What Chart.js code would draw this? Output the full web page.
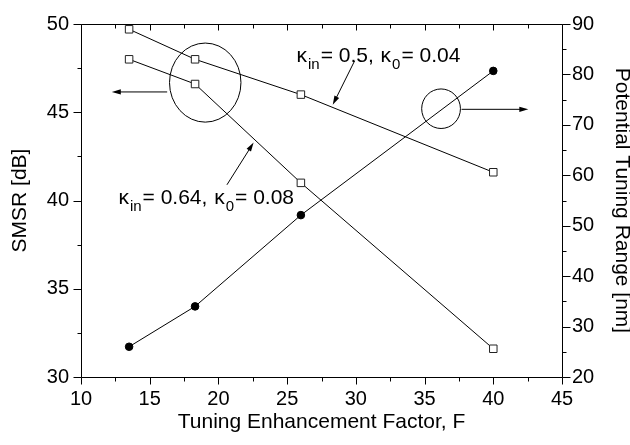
<!DOCTYPE html>
<html>
<head>
<meta charset="utf-8">
<script src="https://cdn.jsdelivr.net/npm/chart.js@4"></script>
<style>
  html, body { margin: 0; padding: 0; background: #fff; }
  #wrap { width: 630px; height: 445px; }
</style>
</head>
<body>
<div id="wrap"><canvas id="chart" width="630" height="445"></canvas></div>
<script>
(function() {
  'use strict';

  // Tuning enhancement factor F
  var factorF = [13.5, 18.3, 26, 40];
  // SMSR [dB], kin = 0.5, k0 = 0.04
  var smsrLow = [49.7, 48.0, 46.0, 41.6];
  // SMSR [dB], kin = 0.64, k0 = 0.08
  var smsrHigh = [48.0, 46.6, 41.0, 31.6];
  // Potential tuning range [nm]
  var tuningRange = [26.0, 34.0, 52.1, 80.7];

  var labelLow = ['κ', 'in', '= 0.5, ', 'κ', '0', '= 0.04'];
  var labelHigh = ['κ', 'in', '= 0.64, ', 'κ', '0', '= 0.08'];

  var FONT = '"Liberation Sans", Arial, sans-serif';
  var INK = '#000';

  function pairs(xs, ys) {
    return xs.map(function(x, i) { return { x: x, y: ys[i] }; });
  }

  function arrow(ctx, x1, y1, x2, y2) {
    var ang = Math.atan2(y2 - y1, x2 - x1);
    var len = 9, half = 2.6;
    ctx.beginPath();
    ctx.moveTo(x1, y1);
    ctx.lineTo(x2 - Math.cos(ang) * len * 0.8, y2 - Math.sin(ang) * len * 0.8);
    ctx.stroke();
    ctx.beginPath();
    ctx.moveTo(x2, y2);
    ctx.lineTo(x2 - Math.cos(ang) * len - Math.sin(ang) * half, y2 - Math.sin(ang) * len + Math.cos(ang) * half);
    ctx.lineTo(x2 - Math.cos(ang) * len + Math.sin(ang) * half, y2 - Math.sin(ang) * len - Math.cos(ang) * half);
    ctx.closePath();
    ctx.fill();
  }

  // parts: kappa, subscript, text, kappa, subscript, text
  function subText(ctx, parts, x, y) {
    var subs = [false, true, false, false, true, false];
    parts.forEach(function(p, i) {
      ctx.font = (subs[i] ? '15px ' : '21px ') + FONT;
      ctx.fillText(p, x, subs[i] ? y + 7 : y);
      x += ctx.measureText(p).width + 1;
    });
  }

  var frameTicks = {
    id: 'frameTicks',
    afterDatasetsDraw: function(chart) {
      var ctx = chart.ctx, a = chart.chartArea;
      var sx = chart.scales.x, sy = chart.scales.y, sy1 = chart.scales.y1;
      var L = Math.round(a.left) + 0.5, R = Math.round(a.right) + 0.5;
      var T = Math.round(a.top) + 0.5, B = Math.round(a.bottom) + 0.5;
      var v, p, major;
      ctx.save();
      ctx.strokeStyle = INK;
      ctx.lineWidth = 1;
      ctx.beginPath();
      ctx.rect(L, T, R - L, B - T);
      for (v = 10; v <= 45.001; v += 2.5) {
        p = Math.round(sx.getPixelForValue(v)) + 0.5;
        major = Math.abs(v % 5) < 0.01;
        ctx.moveTo(p, B); ctx.lineTo(p, B + (major ? 7 : 4));
        ctx.moveTo(p, T); ctx.lineTo(p, T + (major ? 6 : 4));
      }
      for (v = 30; v <= 50.001; v += 2.5) {
        p = Math.round(sy.getPixelForValue(v)) + 0.5;
        major = Math.abs(v % 5) < 0.01;
        ctx.moveTo(L, p); ctx.lineTo(L - (major ? 8 : 4), p);
      }
      for (v = 20; v <= 90.001; v += 5) {
        p = Math.round(sy1.getPixelForValue(v)) + 0.5;
        major = Math.abs(v % 10) < 0.01;
        ctx.moveTo(R, p); ctx.lineTo(R + (major ? 8 : 4), p);
      }
      ctx.stroke();
      ctx.restore();
    },
    afterDraw: function(chart) {
      var ctx = chart.ctx;
      var sx = chart.scales.x, sy = chart.scales.y, sy1 = chart.scales.y1;
      function X(v) { return sx.getPixelForValue(v); }
      function Y(v) { return sy.getPixelForValue(v); }
      function Y1(v) { return sy1.getPixelForValue(v); }
      ctx.save();
      ctx.strokeStyle = INK;
      ctx.fillStyle = INK;
      ctx.lineWidth = 1;

      // ellipse around the SMSR curves, arrow to the left axis
      ctx.beginPath();
      ctx.ellipse(X(19.04), Y(46.68), X(19.04 + 2.6) - X(19.04), Y(46.68 - 2.24) - Y(46.68), 0, 0, Math.PI * 2);
      ctx.stroke();
      arrow(ctx, X(16.27), Y(46.15), X(12.24), Y(46.15));

      // ellipse around the tuning range curve, arrow to the right axis
      ctx.beginPath();
      ctx.ellipse(X(36.2), Y1(73.2), X(36.2 + 1.41) - X(36.2), Y1(73.2 - 3.92) - Y1(73.2), 0, 0, Math.PI * 2);
      ctx.stroke();
      arrow(ctx, X(37.69), Y1(73.08), X(42.55), Y1(73.08));

      // label arrows
      arrow(ctx, X(29.91), Y(47.91), X(28.32), Y(45.42));
      arrow(ctx, X(20.62), Y(40.89), X(22.56), Y(43.28));

      ctx.textAlign = 'left';
      ctx.textBaseline = 'alphabetic';
      subText(ctx, labelLow, X(25.68), Y(47.84));
      subText(ctx, labelHigh, X(12.72), Y(39.82));
      ctx.restore();
    }
  };

  var tickFont = { family: FONT, size: 20 };
  var titleFont = { family: FONT, size: 21 };
  var noGrid = { display: false, drawTicks: false, tickLength: 0 };

  new Chart(document.getElementById('chart'), {
    type: 'scatter',
    data: {
      datasets: [
        {
          label: 'SMSR, kin = 0.5, k0 = 0.04',
          data: pairs(factorF, smsrLow),
          yAxisID: 'y',
          showLine: true,
          borderColor: INK,
          borderWidth: 1,
          pointStyle: 'rect',
          pointRadius: 5.3,
          pointBorderWidth: 1,
          pointBackgroundColor: '#fff',
          pointBorderColor: '#222'
        },
        {
          label: 'SMSR, kin = 0.64, k0 = 0.08',
          data: pairs(factorF, smsrHigh),
          yAxisID: 'y',
          showLine: true,
          borderColor: INK,
          borderWidth: 1,
          pointStyle: 'rect',
          pointRadius: 5.3,
          pointBorderWidth: 1,
          pointBackgroundColor: '#fff',
          pointBorderColor: '#222'
        },
        {
          label: 'Potential Tuning Range',
          data: pairs(factorF, tuningRange),
          yAxisID: 'y1',
          showLine: true,
          borderColor: INK,
          borderWidth: 1,
          pointStyle: 'circle',
          pointRadius: 3.8,
          pointBorderWidth: 1,
          pointBackgroundColor: INK,
          pointBorderColor: INK
        }
      ]
    },
    options: {
      responsive: false,
      animation: false,
      events: [],
      layout: { padding: { top: 20, left: 0, right: 0, bottom: 0 } },
      plugins: { legend: { display: false }, tooltip: { enabled: false } },
      scales: {
        x: {
          type: 'linear',
          position: 'bottom',
          min: 10,
          max: 45,
          afterFit: function(s) { s.height = 68; },
          grid: noGrid,
          border: { display: false },
          ticks: { stepSize: 5, color: INK, font: tickFont, padding: 10, maxRotation: 0 },
          title: { display: true, text: 'Tuning Enhancement Factor, F', color: INK, font: titleFont, padding: { top: 0, bottom: 10 } }
        },
        y: {
          type: 'linear',
          position: 'left',
          min: 30,
          max: 50,
          afterFit: function(s) { s.width = 81; },
          grid: noGrid,
          border: { display: false },
          ticks: { stepSize: 5, color: INK, font: tickFont, padding: 12 },
          title: { display: true, text: 'SMSR [dB]', color: INK, font: titleFont, padding: { top: 8, bottom: 0 } }
        },
        y1: {
          type: 'linear',
          position: 'right',
          min: 20,
          max: 90,
          afterFit: function(s) { s.width = 68; },
          grid: noGrid,
          border: { display: false },
          ticks: { stepSize: 10, color: INK, font: tickFont, padding: 10 },
          title: { display: true, text: 'Potential Tuning Range [nm]', color: INK, font: { family: FONT, size: 21, lineHeight: 0.76 }, padding: { top: 0, bottom: 0 } }
        }
      }
    },
    plugins: [frameTicks]
  });
})();
</script>
</body>
</html>
